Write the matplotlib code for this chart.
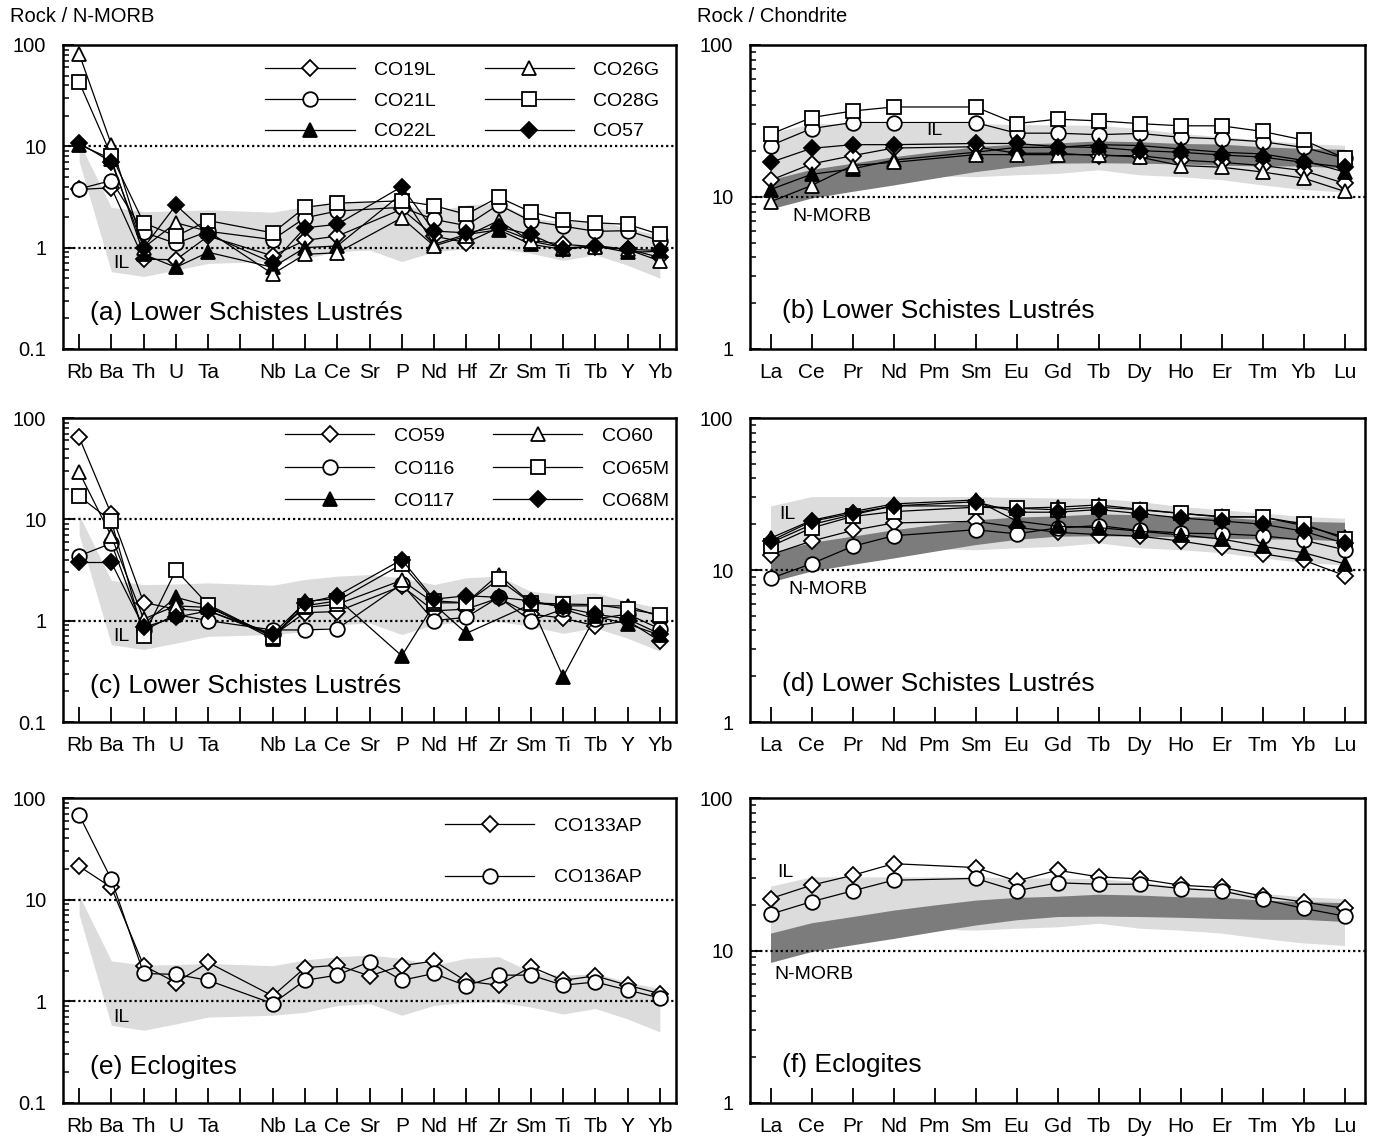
import numpy as np
import matplotlib
matplotlib.use("Agg")
import matplotlib.pyplot as plt
from matplotlib.ticker import FixedLocator, FixedFormatter, NullFormatter, LogLocator

plt.rcParams['font.family'] = ['Liberation Sans', 'DejaVu Sans']

# ---- spider diagram (N-MORB normalised) ----
spider_ticks = ["Rb", "Ba", "Th", "U", "Ta", "", "Nb", "La", "Ce", "Sr", "P",
                "Nd", "Hf", "Zr", "Sm", "Ti", "Tb", "Y", "Yb"]
spider_el = ["Rb", "Ba", "Th", "U", "Ta", "Nb", "La", "Ce", "Sr", "P",
             "Nd", "Hf", "Zr", "Sm", "Ti", "Tb", "Y", "Yb"]
nan = np.nan

il_spider_hi = [11, 2.5, 2.27, 2.3, 2.36, 2.24, 2.55, 2.75, 2.85, 2.65, 2.27, 2.65, 2.75, 1.95, 1.8, 1.88, 1.55, 1.33]
il_spider_lo = [7.1, 0.58, 0.52, 0.6, 0.7, 0.73, 0.78, 0.91, 0.95, 0.73, 0.91, 0.98, 0.98, 0.88, 0.75, 0.85, 0.67, 0.5]

# panel a
CO19L = [3.75, 3.9, 0.77, 0.76, 1.3, 0.83, 1.18, 1.3, nan, 2.4, 1.3, 1.12, 1.57, 1.18, 1.08, 1.02, 0.97, 0.8]
CO21L = [3.8, 4.6, 1.42, 1.1, 1.45, 1.2, 1.97, 2.3, nan, 2.5, 1.9, 1.65, 2.66, 1.83, 1.63, 1.45, 1.47, 1.17]
CO22L = [10.4, 7.5, 0.86, 0.64, 0.9, 0.64, 1.0, 1.04, nan, 3.4, 1.08, 1.35, 1.5, 1.08, 0.96, 1.04, 0.9, 0.92]
CO26G = [82, 10.4, 1.0, 1.76, 1.45, 0.55, 0.86, 0.89, nan, 1.97, 1.04, 1.3, 1.85, 1.16, 1.0, 1.02, 0.96, 0.74]
CO28G = [43, 8.1, 1.76, 1.3, 1.85, 1.4, 2.5, 2.75, nan, 2.9, 2.6, 2.13, 3.15, 2.25, 1.88, 1.76, 1.7, 1.35]
CO57 = [10.8, 7.0, 1.0, 2.63, 1.35, 0.71, 1.57, 1.7, nan, 4.0, 1.46, 1.4, 1.6, 1.35, 0.97, 1.05, 0.96, 0.94]

# panel c
CO59 = [64.6, 11.2, 1.51, 1.3, 1.25, 0.71, 1.2, 1.23, nan, 2.2, 1.25, 1.3, 1.67, 1.16, 1.06, 0.89, 1.0, 0.63]
CO116 = [4.36, 5.8, 0.8, 1.15, 1.0, 0.81, 0.81, 0.83, nan, 2.3, 1.0, 1.08, 1.7, 1.0, 1.3, 1.04, 1.16, 0.83]
CO117 = [nan, nan, 0.93, 1.7, 1.4, 0.66, 1.55, 1.65, nan, 0.45, 1.45, 0.75, nan, 1.45, 0.28, 1.1, 0.93, 0.72]
CO60 = [29.2, 6.8, 1.04, 1.4, 1.35, 0.72, 1.35, 1.45, nan, 2.5, 1.5, 1.5, 2.85, 1.5, 1.4, 1.4, 1.4, 1.1]
CO65M = [16.9, 9.6, 0.71, 3.15, 1.44, 0.69, 1.4, 1.57, nan, 3.6, 1.57, 1.5, 2.55, 1.5, 1.46, 1.44, 1.3, 1.15]
CO68M = [3.75, 3.75, 0.86, 1.08, 1.25, 0.74, 1.5, 1.76, nan, 4.0, 1.63, 1.76, 1.7, 1.57, 1.35, 1.16, 1.04, 0.74]

# panel e
CO133AP = [21.3, 13.2, 2.24, 1.53, 2.41, 1.13, 2.14, 2.27, 1.78, 2.24, 2.49, 1.58, 1.44, 2.19, 1.61, 1.78, 1.44, 1.19]
CO136AP = [68.2, 15.8, 1.88, 1.84, 1.61, 0.95, 1.61, 1.81, 2.45, 1.61, 1.88, 1.42, 1.81, 1.81, 1.44, 1.55, 1.29, 1.08]

# ---- REE (chondrite normalised) ----
ree = ["La", "Ce", "Pr", "Nd", "Pm", "Sm", "Eu", "Gd", "Tb", "Dy", "Ho", "Er", "Tm", "Yb", "Lu"]
il_ree_hi = [26.4, 30.4, 30.4, 30.4, 30.4, 30.4, 30.0, 29.8, 29.6, 28.2, 26.2, 24.9, 23.7, 22.5, 21.9]
il_ree_lo = [12, 13, 13.5, 14, 13.8, 13.6, 14.0, 14.3, 15.1, 14.0, 13.6, 13.0, 12.0, 11.2, 10.8]
morb_hi = [13.0, 15.2, 16.7, 18.4, 19.9, 21.4, 22.3, 22.7, 23.4, 23.1, 22.5, 22.3, 21.4, 20.9, 20.6]
morb_lo = [8.35, 9.85, 10.9, 12.0, 13.3, 14.7, 15.9, 16.7, 16.8, 16.7, 16.5, 16.2, 16.0, 16.0, 15.5]

# panel b
CO19L_r = [12.9, 16.5, 18.7, 21, nan, 21.4, 19.4, 19.4, 18.7, 18.7, 17.5, 16.9, 16.1, 14.9, 12.3]
CO21L_r = [21.8, 28.2, 30.9, 30.9, nan, 30.9, 26.3, 26.3, 25.7, 26.2, 24.7, 24.1, 23.1, 21.2, 18.0]
CO22L_r = [11.2, 14.1, 15.3, 17.5, nan, 19.7, 21.2, 21.2, 22.1, 21.8, 20.7, 19.7, 19.2, 17.4, 14.6]
CO26G_r = [9.3, 11.9, 16.1, 16.9, nan, 19.0, 19.0, 19.0, 19.0, 18.3, 16.1, 15.7, 14.6, 13.3, 10.9]
CO28G_r = [25.9, 33.3, 36.8, 39.1, nan, 39.1, 30.4, 32.5, 31.7, 30.4, 29.4, 29.4, 27.0, 23.7, 18.0]
CO57_r = [16.9, 20.9, 22.1, 22.1, nan, 22.5, 22.5, 21.4, 21.2, 20.2, 19.7, 18.9, 18.3, 16.9, 15.7]

# panel d
CO59_r = [12.6, 15.5, 18.2, 20.4, nan, 20.9, 19.1, 17.7, 17.1, 16.7, 15.5, 14.1, 12.8, 11.6, 9.2]
CO116_r = [8.8, 11.0, 14.3, 16.8, nan, 18.4, 17.3, 18.9, 19.6, 18.2, 17.5, 17.3, 16.8, 15.7, 13.6]
CO117_r = [16.2, 21.2, 24.2, 27.2, nan, 28.9, 21.0, 19.4, 19.0, 18.0, 17.0, 16.0, 14.3, 13.0, 11.0]
CO60_r = [15.1, 19.9, 23.1, 26.4, nan, 26.4, 25.5, 25.9, 26.8, 25.1, 23.6, 22.5, 22.3, 19.6, 16.5]
CO65M_r = [14.3, 18.9, 22.5, 24.2, nan, 25.9, 25.5, 24.9, 25.9, 24.9, 23.6, 22.3, 22.3, 20.1, 16.0]
CO68M_r = [15.5, 20.9, 23.6, 26.4, nan, 28.1, 24.0, 24.0, 25.0, 23.5, 22.0, 21.0, 20.0, 18.0, 15.0]

# panel f
CO133AP_r = [21.9, 26.8, 31.1, 37.1, nan, 35.0, 28.6, 33.6, 30.4, 29.5, 26.8, 25.9, 22.7, 20.8, 18.9]
CO136AP_r = [17.3, 20.9, 24.6, 28.9, nan, 29.7, 24.6, 27.8, 27.2, 27.2, 25.5, 24.6, 21.6, 18.9, 16.8]

MARK = {
    "od": dict(marker="D", ms=8.5, mfc="white"),
    "oo": dict(marker="o", ms=10.5, mfc="white"),
    "ft": dict(marker="^", ms=10, mfc="black"),
    "ot": dict(marker="^", ms=10.5, mfc="white"),
    "os": dict(marker="s", ms=10, mfc="white"),
    "fd": dict(marker="D", ms=8.5, mfc="black"),
}

LIGHT = "#dcdcdc"
DARK = "#7c7c7c"

fig = plt.figure(figsize=(13.75, 11.44), dpi=100)

W, H = 1375.0, 1144.0
rows = [(45, 349), (418, 722), (798, 1103)]


def make_ax(x0, x1, row):
    top, bot = rows[row]
    return fig.add_axes([x0 / W, 1 - bot / H, (x1 - x0) / W, (bot - top) / H])


def style(ax, ticks, ylim, ylabels):
    ax.set_yscale("log")
    ax.set_ylim(*ylim)
    ax.set_xlim(-0.5, len(ticks) - 0.5)
    ax.set_xticks(range(len(ticks)))
    ax.set_xticklabels(ticks, fontsize=15)
    ax.yaxis.set_major_locator(FixedLocator([v for v, _ in ylabels]))
    ax.yaxis.set_major_formatter(FixedFormatter([t for _, t in ylabels]))
    ax.yaxis.set_minor_locator(LogLocator(base=10, subs=np.arange(2, 10)))
    ax.yaxis.set_minor_formatter(NullFormatter())
    ax.tick_params(axis="x", direction="in", length=11, width=1.3, pad=10, top=False)
    ax.tick_params(axis="y", which="major", direction="in", length=8, width=1.3,
                   labelsize=14.5, right=False, pad=12)
    ax.tick_params(axis="y", which="minor", direction="in", length=4.5, width=1.1, right=False)
    for s in ax.spines.values():
        s.set_linewidth(1.8)


def plot_series(ax, xs, series):
    xs = np.asarray(xs)
    for name, vals, key in series:
        v = np.asarray(vals, dtype=float)
        m = ~np.isnan(v)
        ax.plot(xs[m], v[m], color="black", lw=0.9, mec="black", mew=1.3,
                label=name, zorder=3, **MARK[key])


def legend(ax, anchor, ncol, spacing, colsp=2.4):
    ax.legend(loc="upper left", bbox_to_anchor=anchor, ncol=ncol, frameon=False,
              fontsize=14, handlelength=4.6, handletextpad=1.0, numpoints=1,
              labelspacing=spacing, columnspacing=colsp, borderpad=0, borderaxespad=0)


spider_x = [i for i, t in enumerate(spider_ticks) if t]
ree_x = list(range(len(ree)))
left_y = [(0.1, "0.1"), (1, "1"), (10, "10"), (100, "100")]
right_y = [(1, "1"), (10, "10"), (100, "100")]

panels_left = [
    ("(a) Lower Schistes Lustrés",
     [("CO19L", CO19L, "od"), ("CO21L", CO21L, "oo"), ("CO22L", CO22L, "ft"),
      ("CO26G", CO26G, "ot"), ("CO28G", CO28G, "os"), ("CO57", CO57, "fd")],
     (0.33, 0.947), 2, 0.68, 2.5),
    ("(c) Lower Schistes Lustrés",
     [("CO59", CO59, "od"), ("CO116", CO116, "oo"), ("CO117", CO117, "ft"),
      ("CO60", CO60, "ot"), ("CO65M", CO65M, "os"), ("CO68M", CO68M, "fd")],
     (0.362, 0.97), 2, 0.78, 2.0),
    ("(e) Eclogites",
     [("CO133AP", CO133AP, "od"), ("CO136AP", CO136AP, "oo")],
     (0.623, 0.937), 1, 1.75, 2.0),
]

for r, (title, series, anchor, ncol, sp, cs) in enumerate(panels_left):
    ax = make_ax(63, 676, r)
    style(ax, spider_ticks, (0.1, 100), left_y)
    ax.fill_between(spider_x, il_spider_lo, il_spider_hi, color=LIGHT, lw=0, zorder=0)
    for yv in (1, 10):
        ax.axhline(yv, color="black", lw=1.6, ls=(0, (1, 1.3)), zorder=1)
    plot_series(ax, spider_x, series)
    ax.text(1.3, 0.7, "IL", fontsize=14, ha="center", va="center")
    ax.text(0.044, 0.118, title, transform=ax.transAxes, fontsize=19, va="center")
    legend(ax, anchor, ncol, sp, cs)

panels_right = [
    ("(b) Lower Schistes Lustrés",
     [("CO19L", CO19L_r, "od"), ("CO21L", CO21L_r, "oo"), ("CO22L", CO22L_r, "ft"),
      ("CO26G", CO26G_r, "ot"), ("CO28G", CO28G_r, "os"), ("CO57", CO57_r, "fd")],
     (4.0, 27.2), (1.5, 7.4)),
    ("(d) Lower Schistes Lustrés",
     [("CO59", CO59_r, "od"), ("CO116", CO116_r, "oo"), ("CO117", CO117_r, "ft"),
      ("CO60", CO60_r, "ot"), ("CO65M", CO65M_r, "os"), ("CO68M", CO68M_r, "fd")],
     (0.4, 23.3), (1.4, 7.4)),
    ("(f) Eclogites",
     [("CO133AP", CO133AP_r, "od"), ("CO136AP", CO136AP_r, "oo")],
     (0.37, 32.6), (1.05, 6.95)),
]

for r, (title, series, il_pos, morb_pos) in enumerate(panels_right):
    ax = make_ax(750, 1365, r)
    style(ax, ree, (1, 100), right_y)
    ax.fill_between(ree_x, il_ree_lo, il_ree_hi, color=LIGHT, lw=0, zorder=0)
    ax.fill_between(ree_x, morb_lo, morb_hi, color=DARK, lw=0, zorder=0.5)
    ax.axhline(10, color="black", lw=1.6, ls=(0, (1, 1.3)), zorder=1)
    plot_series(ax, ree_x, series)
    ax.text(il_pos[0], il_pos[1], "IL", fontsize=14, ha="center", va="center")
    ax.text(morb_pos[0], morb_pos[1], "N-MORB", fontsize=14, ha="center", va="center")
    ax.text(0.052, 0.125, title, transform=ax.transAxes, fontsize=19, va="center")

fig.text(10 / W, 1 - 17 / H, "Rock / N-MORB", fontsize=14.5, va="center")
fig.text(697 / W, 1 - 17 / H, "Rock / Chondrite", fontsize=14.5, va="center")

fig.savefig("out.png", dpi=100)
